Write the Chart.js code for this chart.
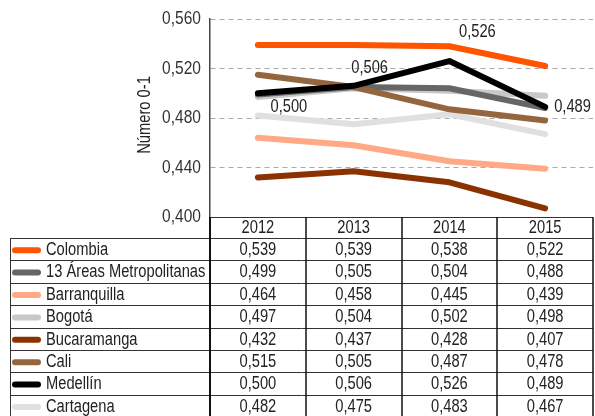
<!DOCTYPE html>
<html>
<head>
<meta charset="utf-8">
<script src="https://cdn.jsdelivr.net/npm/chart.js@4"></script>
<style>
  html, body { margin: 0; padding: 0; background: #fff; }
  #wrap { width: 595px; height: 416px; position: relative; }
</style>
</head>
<body>
<div id="wrap"><canvas id="chart"></canvas></div>
<script>
// DATA
const years = ['2012', '2013', '2014', '2015'];
const seriesNames = ['Colombia', '13 Áreas Metropolitanas', 'Barranquilla', 'Bogotá',
    'Bucaramanga', 'Cali', 'Medellín', 'Cartagena'];
const colombia     = [0.539, 0.539, 0.538, 0.522];
const areas13      = [0.499, 0.505, 0.504, 0.488];
const barranquilla = [0.464, 0.458, 0.445, 0.439];
const bogota       = [0.497, 0.504, 0.502, 0.498];
const bucaramanga  = [0.432, 0.437, 0.428, 0.407];
const cali         = [0.515, 0.505, 0.487, 0.478];
const medellin     = [0.500, 0.506, 0.526, 0.489];
const cartagena    = [0.482, 0.475, 0.483, 0.467];
const yTicks = [0.400, 0.440, 0.480, 0.520, 0.560];
const yTitle = 'Número 0-1';

const seriesValues = [colombia, areas13, barranquilla, bogota, bucaramanga, cali, medellin, cartagena];
const seriesColors = ['#ff5400', '#666666', '#ffa985', '#c8c8c8', '#8b3300', '#94663f', '#000000', '#e0e0e0'];
// drawing order (lower = on top)
const seriesOrder = [2, 4, 5, 5, 3, 3, 0, 6];

// no narrow font installed -> squeeze Liberation Sans horizontally
const FONT = '17.5px "Liberation Sans", Arial, sans-serif';
const SQUEEZE = 0.84;
const fmt = v => v.toFixed(3).replace('.', ',');

function narrowText(ctx, str, x, y, align, rotate) {
    ctx.save();
    ctx.translate(x, y);
    if (rotate) ctx.rotate(-Math.PI / 2);
    ctx.scale(SQUEEZE, 1);
    ctx.textAlign = align;
    ctx.fillText(str, 0, 0);
    ctx.restore();
}

// labels on the Medellín line, offsets in pixels from the point
const labelOffsets = [
    { dx: 31, dy: 14, align: 'center' },
    { dx: 16, dy: -18, align: 'center' },
    { dx: 28, dy: -29, align: 'center' },
    { dx: 9, dy: 0, align: 'left' }
];

// --- PLUGIN: axis texts, data labels, data table ---
const tablePlugin = {
    id: 'tablePlugin',
    afterDraw(chart) {
        const { ctx, chartArea: area, scales: { x, y } } = chart;
        ctx.save();
        ctx.font = FONT;
        ctx.textBaseline = 'middle';

        // y ticks + title
        ctx.fillStyle = '#333';
        ctx.font = '18.5px "Liberation Sans", Arial, sans-serif';
        yTicks.forEach(v => narrowText(ctx, fmt(v), area.left - 9, y.getPixelForValue(v), 'right'));
        ctx.font = FONT;
        ctx.fillStyle = '#222';
        narrowText(ctx, yTitle, 145, (area.top + area.bottom) / 2 - 3, 'center', true);

        // medellín labels
        medellin.forEach((v, i) => {
            const o = labelOffsets[i];
            narrowText(ctx, fmt(v), x.getPixelForValue(i) + o.dx, y.getPixelForValue(v) + o.dy, o.align);
        });

        const step = x.getPixelForValue(1) - x.getPixelForValue(0);
        const colEdge = i => x.getPixelForValue(i) - step / 2;
        const headTop = area.bottom;
        const headBottom = headTop + 21;
        const rowH = 22.4;
        const left = 10;
        const right = colEdge(years.length);
        const tableBottom = headBottom + rowH * seriesNames.length;

        // header
        years.forEach((yr, i) => narrowText(ctx, yr, x.getPixelForValue(i), (headTop + headBottom) / 2 + 1, 'center'));

        // rows
        seriesNames.forEach((name, r) => {
            const cy = headBottom + rowH * r + rowH / 2 + 1;
            ctx.strokeStyle = seriesColors[r];
            ctx.lineWidth = 6;
            ctx.lineCap = 'round';
            ctx.beginPath();
            ctx.moveTo(15, cy);
            ctx.lineTo(38, cy);
            ctx.stroke();
            narrowText(ctx, name, 46, cy, 'left');
            seriesValues[r].forEach((v, i) => narrowText(ctx, fmt(v), x.getPixelForValue(i), cy, 'center'));
        });

        // grid lines of the table
        ctx.lineCap = 'butt';
        ctx.strokeStyle = '#333';
        ctx.lineWidth = 1;
        ctx.beginPath();
        ctx.moveTo(area.left, headTop + 0.5);
        ctx.lineTo(right, headTop + 0.5);
        for (let r = 0; r <= seriesNames.length; r++) {
            const yy = Math.round(headBottom + rowH * r) + 0.5;
            ctx.moveTo(left, yy);
            ctx.lineTo(right, yy);
        }
        ctx.moveTo(left + 0.5, headBottom);
        ctx.lineTo(left + 0.5, tableBottom);
        ctx.stroke();

        ctx.strokeStyle = '#111';
        ctx.lineWidth = 1.5;
        ctx.beginPath();
        for (let i = 1; i <= years.length; i++) {
            const xx = Math.round(colEdge(i));
            ctx.moveTo(xx, headTop);
            ctx.lineTo(xx, tableBottom);
        }
        ctx.stroke();
        ctx.lineWidth = 2;
        ctx.beginPath();
        ctx.moveTo(area.left, headTop);
        ctx.lineTo(area.left, tableBottom);
        ctx.stroke();
        ctx.restore();
    }
};

// --- CHART ---
new Chart(document.getElementById('chart'), {
    type: 'line',
    data: {
        labels: years,
        datasets: seriesNames.map((name, r) => ({
            label: name,
            data: seriesValues[r],
            borderColor: seriesColors[r],
            backgroundColor: seriesColors[r],
            borderWidth: 6,
            borderCapStyle: 'round',
            borderJoinStyle: 'round',
            pointRadius: 0,
            tension: 0,
            order: seriesOrder[r]
        }))
    },
    options: {
        responsive: true,
        maintainAspectRatio: false,
        animation: false,
        layout: { padding: { top: 19, bottom: 199, left: 0, right: 2 } },
        plugins: { legend: { display: false }, tooltip: { enabled: false } },
        scales: {
            x: { display: false, offset: true },
            y: {
                min: yTicks[0],
                max: yTicks[yTicks.length - 1],
                afterFit(scale) { scale.width = 210; },
                afterBuildTicks(scale) { scale.ticks = yTicks.map(v => ({ value: v })); },
                ticks: { display: false },
                grid: {
                    drawTicks: false,
                    color: c => (c.tick && c.tick.value > yTicks[0] ? '#aaaaaa' : 'transparent'),
                    lineWidth: 1
                },
                border: { display: true, color: '#444', width: 1.5, dash: [5, 4] }
            }
        }
    },
    plugins: [tablePlugin]
});
</script>
</body>
</html>
